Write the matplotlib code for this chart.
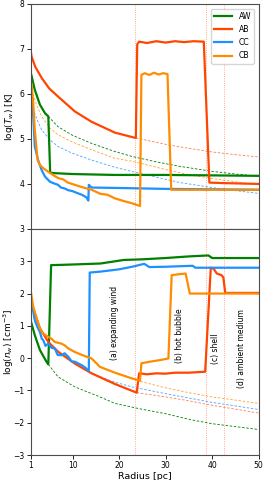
import matplotlib
matplotlib.use("Agg")
import matplotlib.pyplot as plt

# ---- temperature panel (log T) ----
r_AW_T = [1, 1.06, 1.9, 3.0, 4.1, 4.8, 5.2, 6, 10, 19, 30, 40, 50]
T_AW = [6.45, 6.46, 6.09, 5.76, 5.57, 5.5, 4.25, 4.24, 4.22, 4.2, 4.2, 4.19, 4.18]
r_AW_Td = [4.8, 6.9, 10, 14.1, 19.1, 22.8, 28, 33.1, 40, 45, 50]
T_AW_d = [5.5, 5.27, 5.08, 4.9, 4.72, 4.61, 4.49, 4.39, 4.28, 4.22, 4.17]

r_AB_T = [1, 1.2, 2, 3.4, 5, 6.9, 10.5, 14.1, 19.1, 23.6, 23.9, 24.3, 26, 28, 30,
          32, 34, 36, 38.2, 39.4, 42, 46, 50]
T_AB = [6.97, 6.83, 6.6, 6.35, 6.12, 5.94, 5.61, 5.38, 5.14, 5.02, 7.1, 7.16, 7.13,
        7.17, 7.14, 7.17, 7.15, 7.17, 7.16, 4.03, 4.02, 4.01, 4.0]
r_AB_Td = [23.6, 30, 35, 40, 45, 50]
T_AB_d = [5.02, 4.88, 4.79, 4.71, 4.65, 4.6]

r_CC_T = [1, 1.3, 1.56, 1.9, 2.6, 3.36, 4.1, 5.15, 5.8, 6.9, 7.5, 8.3, 9.1, 10,
          11.2, 12, 12.7, 13.0, 13.4, 13.5, 14.1, 20, 30, 40, 50]
T_CC = [6.3, 5.9, 5.5, 4.83, 4.53, 4.31, 4.16, 4.05, 4.02, 3.98, 3.92, 3.9, 3.86,
        3.84, 3.79, 3.76, 3.72, 3.7, 3.63, 3.98, 3.92, 3.91, 3.89, 3.88, 3.87]
r_CC_Td = [1.5, 2.3, 3.36, 5.15, 6.9, 10, 14.1, 19.1, 25, 33.1, 40, 45, 50]
T_CC_d = [5.68, 5.45, 5.2, 4.98, 4.83, 4.68, 4.53, 4.37, 4.22, 4.03, 3.92, 3.85, 3.79]

r_CB_T = [1, 1.3, 1.56, 1.9, 2.5, 3.0, 3.7, 4.8, 5.5, 6.9, 8, 9, 10.5, 12, 14.1,
          16, 17.5, 19.1, 21, 22.8, 24.5, 24.8, 25.5, 26.5, 27.5, 28.5, 29.5, 30.4,
          31.2, 33, 40, 50]
T_CB = [6.35, 6.1, 5.79, 5.2, 4.53, 4.42, 4.35, 4.27, 4.22, 4.13, 4.1, 4.03, 3.98,
        3.93, 3.87, 3.78, 3.76, 3.68, 3.62, 3.57, 3.51, 6.42, 6.46, 6.42, 6.47, 6.43,
        6.46, 6.44, 3.87, 3.87, 3.87, 3.87]
r_CB_Td = [1.5, 2.3, 3.36, 5.15, 6.9, 10, 14.1, 19.1, 23, 30, 35.2, 40, 45, 50]
T_CB_d = [6.0, 5.75, 5.5, 5.24, 5.09, 4.93, 4.76, 4.57, 4.5, 4.32, 4.2, 4.12, 4.05, 3.98]

# ---- density panel (log n) ----
r_AW_n = [1, 1.9, 3.0, 4.4, 4.8, 5.4, 8, 12, 16, 21, 25, 30, 35, 39.2, 40, 45, 50]
n_AW = [1.17, 0.71, 0.25, -0.11, -0.19, 2.88, 2.89, 2.91, 2.93, 3.04, 3.06, 3.1,
        3.15, 3.18, 3.1, 3.1, 3.1]
r_AW_nd = [4.8, 6.9, 10.5, 15.9, 19.1, 24.5, 30, 35.2, 40, 45, 50]
n_AW_d = [-0.19, -0.58, -0.89, -1.2, -1.4, -1.57, -1.72, -1.9, -2.03, -2.12, -2.21]

r_AB_n = [1, 1.9, 3, 4.8, 6.9, 10.5, 14.1, 19.1, 23.8, 24.3, 26, 28, 30, 32, 35,
          38.5, 39.7, 40.3, 41, 42, 42.4, 42.8, 46, 50]
n_AB = [1.82, 1.38, 0.92, 0.5, 0.2, -0.17, -0.47, -0.8, -1.07, -0.47, -0.5, -0.47,
        -0.48, -0.45, -0.45, -0.42, 2.8, 2.77, 2.62, 2.57, 2.5, 2.02, 2.02, 2.02]
r_AB_nd = [23.8, 30, 35, 40, 45, 50]
n_AB_d = [-1.07, -1.2, -1.32, -1.46, -1.58, -1.7]

r_CC_n = [1, 1.5, 1.9, 2.5, 3.0, 3.4, 3.7, 4.2, 4.8, 5.5, 6.2, 6.8, 7.6, 8.3, 9.1,
          9.8, 10.5, 12, 12.8, 13.5, 13.7, 16, 20, 22.8, 25.4, 26.5, 30, 35.8, 36.4, 50]
n_CC = [1.95, 1.5, 1.17, 0.95, 0.81, 0.6, 0.56, 0.38, 0.45, 0.32, 0.3, 0.1, 0.09,
        0.15, 0.04, -0.1, -0.11, -0.22, -0.3, -0.4, 2.65, 2.68, 2.75, 2.83, 2.92,
        2.82, 2.83, 2.86, 2.8, 2.8]
r_CC_nd = [13.5, 16, 19, 22.8, 30, 40, 50]
n_CC_d = [-0.42, -0.58, -0.74, -0.89, -1.1, -1.37, -1.59]

r_CB_n = [1, 1.56, 2.3, 3, 3.7, 4.8, 5.5, 6.2, 7.6, 8.3, 9.1, 10.5, 12, 14.1, 15.9,
          19.1, 22.8, 24.5, 24.8, 26.6, 28.8, 30.6, 31.3, 33, 34.3, 35.2, 40, 50]
n_CB = [2.1, 1.59, 1.23, 0.92, 0.76, 0.66, 0.6, 0.5, 0.45, 0.4, 0.3, 0.19, 0.1,
        -0.01, -0.27, -0.45, -0.63, -0.7, -0.16, -0.11, -0.06, -0.01, 2.57, 2.6,
        2.62, 2.0, 2.0, 2.0]
r_CB_nd = [24.6, 30, 35, 40, 45, 50]
n_CB_d = [-0.72, -0.92, -1.07, -1.2, -1.3, -1.4]

r_bounds = [23.5, 38.7, 42.6]
region_text = ["(a) expanding wind", "(b) hot bubble", "(c) shell", "(d) ambient medium"]
region_x = [19.1, 33.0, 40.8, 46.3]
region_y = [1.1, 0.7, 0.3, 0.3]

c_AW, c_AB, c_CC, c_CB = "green", "orangered", "dodgerblue", "darkorange"

fig = plt.figure(figsize=(2.64, 4.8), dpi=100)
ax1 = fig.add_axes([0.116, 0.523, 0.864, 0.469])
ax2 = fig.add_axes([0.116, 0.052, 0.864, 0.471], sharex=ax1)

lw = 1.6
dk = dict(lw=0.6, ls=(0, (3, 2)))

# top panel
ax1.plot(r_AW_Td, T_AW_d, color=c_AW, **dk)
ax1.plot(r_AB_Td, T_AB_d, color=c_AB, alpha=0.7, **dk)
ax1.plot(r_CC_Td, T_CC_d, color=c_CC, alpha=0.8, **dk)
ax1.plot(r_CB_Td, T_CB_d, color=c_CB, alpha=0.8, **dk)
ax1.plot(r_AW_T, T_AW, color=c_AW, lw=lw, label="AW")
ax1.plot(r_AB_T, T_AB, color=c_AB, lw=lw, label="AB")
ax1.plot(r_CC_T, T_CC, color=c_CC, lw=lw, label="CC")
ax1.plot(r_CB_T, T_CB, color=c_CB, lw=lw, label="CB")

# bottom panel
ax2.plot(r_AW_nd, n_AW_d, color=c_AW, **dk)
ax2.plot(r_AB_nd, n_AB_d, color=c_AB, alpha=0.7, **dk)
ax2.plot(r_CC_nd, n_CC_d, color=c_CC, alpha=0.8, **dk)
ax2.plot(r_CB_nd, n_CB_d, color=c_CB, alpha=0.8, **dk)
ax2.plot(r_AW_n, n_AW, color=c_AW, lw=lw)
ax2.plot(r_AB_n, n_AB, color=c_AB, lw=lw)
ax2.plot(r_CC_n, n_CC, color=c_CC, lw=lw)
ax2.plot(r_CB_n, n_CB, color=c_CB, lw=lw)

for ax in (ax1, ax2):
    for rb in r_bounds:
        ax.axvline(rb, color=c_AB, lw=0.6, ls=":", alpha=0.6)
    ax.tick_params(labelsize=5.5, length=3, width=0.6, pad=1.5)
    for s in ax.spines.values():
        s.set_color("0.3")
        s.set_linewidth(0.8)

for txt, tx, ty in zip(region_text, region_x, region_y):
    ax2.text(tx, ty, txt, rotation=90, fontsize=5.5, ha="center", va="center")

ax1.set_xlim(1, 50)
ax1.set_ylim(3, 8)
ax1.set_yticks([3, 4, 5, 6, 7, 8])
ax2.set_ylim(-3, 4)
ax2.set_yticks([-3, -2, -1, 0, 1, 2, 3])
ax2.set_xticks([1, 10, 20, 30, 40, 50])
ax1.tick_params(labelbottom=False)

ax1.set_ylabel(r"log($T_w$) [K]", fontsize=6.5)
ax2.set_ylabel(r"log($n_w$) [cm$^{-3}$]", fontsize=6.5)
ax1.yaxis.set_label_coords(-0.065, 0.5)
ax2.yaxis.set_label_coords(-0.065, 0.5)
ax2.set_xlabel("Radius [pc]", fontsize=6.8, labelpad=1)

ax1.legend(loc="upper right", fontsize=5.6, handlelength=2.3, labelspacing=0.55,
           borderaxespad=0.6)

fig.savefig("out.png", dpi=100)
